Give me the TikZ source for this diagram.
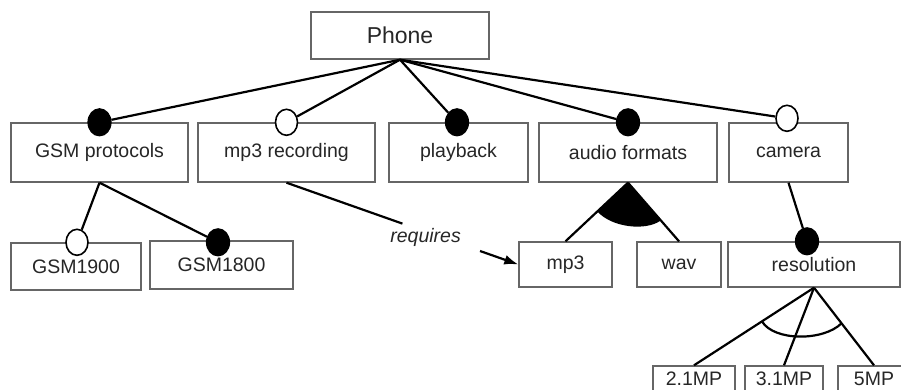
\documentclass[tikz,border=0pt]{standalone}
\usepackage{fontspec}
\setmainfont{Liberation Sans}
\usetikzlibrary{shapes.geometric,calc,arrows.meta}

\begin{document}
\begin{tikzpicture}[
  x=1pt, y=-1pt,
  every node/.style={font=\fontsize{19.5}{23}\selectfont, text=black!85},
  feature/.style={draw=black!60, line width=1.4pt, inner sep=0pt},
  mandatory/.style={ellipse, fill=black, draw=black, line width=1.2pt,
    minimum width=23pt, minimum height=27pt, inner sep=0pt},
  optional/.style={ellipse, fill=white, draw=black, line width=1.6pt,
    minimum width=22pt, minimum height=26pt, inner sep=0pt},
  relation/.style={draw, line width=2.2pt}
]

\clip (0,0) rectangle (901,389);

% root
\node[feature, minimum width=178pt, minimum height=47pt,
  font=\fontsize{23}{27}\selectfont] (phone) at (400,35.5) {Phone};

% first level
\node[feature, minimum width=177pt, minimum height=59pt] (gsm) at (99.5,152.5) {GSM protocols};
\node[feature, minimum width=177pt, minimum height=59pt] (mp3rec) at (286.5,152.5) {mp3 recording};
\node[feature, minimum width=139pt, minimum height=59pt] (playback) at (458.5,152.5) {playback};
\node[feature, minimum width=178pt, minimum height=59pt] (audio) at (628,152.5) {audio formats};
\node[feature, minimum width=119pt, minimum height=59pt] (camera) at (788.5,152.5) {camera};

% second level
\node[feature, minimum width=130pt, minimum height=47pt] (gsm1900) at (76,266.5) {GSM1900};
\node[feature, minimum width=143pt, minimum height=48pt] (gsm1800) at (221.5,265) {GSM1800};
\node[feature, minimum width=93pt, minimum height=45pt] (mp3) at (565.5,264.5) {mp3};
\node[feature, minimum width=84pt, minimum height=45pt] (wav) at (679,264.5) {wav};
\node[feature, minimum width=172pt, minimum height=45pt] (resolution) at (814,264.5) {resolution};

% third level
\node[feature, minimum width=82pt, minimum height=26pt] (mp21) at (694,379) {2.1MP};
\node[feature, minimum width=78pt, minimum height=26pt] (mp31) at (784,379) {3.1MP};
\node[feature, minimum width=72pt, minimum height=26pt] (mp5) at (874,379) {5MP};

% markers
\node[mandatory] (gsmdot) at (gsm.north) {};
\node[optional] (mp3recdot) at (mp3rec.north) {};
\node[mandatory] (playbackdot) at ([xshift=-1.5pt]playback.north) {};
\node[mandatory] (audiodot) at (audio.north) {};
\node[optional] (cameradot) at ([xshift=-1.5pt,yshift=4pt]camera.north) {};
\node[optional] (gsm1900dot) at ([xshift=1pt]gsm1900.north) {};
\node[mandatory] (gsm1800dot) at ([xshift=-3.5pt,yshift=-2pt]gsm1800.north) {};
\node[mandatory] (resolutiondot) at ([xshift=-7pt]resolution.north) {};

% decomposition
\draw[relation] (phone.south) -- (gsmdot);
\draw[relation] (phone.south) -- (mp3recdot);
\draw[relation] (phone.south) -- (playbackdot);
\draw[relation] (phone.south) -- (audiodot);
\draw[relation] (phone.south) -- (cameradot);
\draw[relation] (gsm.south) -- (gsm1900dot);
\draw[relation] (gsm.south) -- (gsm1800dot);
\draw[relation] (camera.south) -- (resolutiondot);

% or group
\draw[relation] (audio.south) -- (mp3.north);
\draw[relation] (audio.south) -- (wav.north);
\fill (audio.south) -- ($(audio.south)!42pt!(mp3.north)$)
  .. controls +(14,16) and +(-15,11) .. ($(audio.south)!50pt!(wav.north)$) -- cycle;

% alternative group
\draw[relation] (resolution.south) -- (mp21.north);
\draw[relation] (resolution.south) -- (mp31.north);
\draw[relation] (resolution.south) -- (mp5.north);
\draw[relation] ($(resolution.south)!62pt!(mp21.north)$)
  .. controls +(12,20) and +(-18,18) .. ($(resolution.south)!45pt!(mp5.north)$);

% requires constraint
\coordinate (rq1) at ($(mp3rec.south)!0.5!(mp3.west)$);
\coordinate (rq2) at ($(mp3rec.south)!0.835!(mp3.west)$);
\node[font=\fontsize{19.5}{23}\selectfont\itshape] (req)
  at ($(mp3rec.south)!0.6!(mp3.west)+(0,6)$) {requires};
\draw[relation] (mp3rec.south) -- (rq1);
\draw[relation, -{Latex[length=14pt, width=10pt]}] (rq2) -- (mp3.west);

\end{tikzpicture}
\end{document}
